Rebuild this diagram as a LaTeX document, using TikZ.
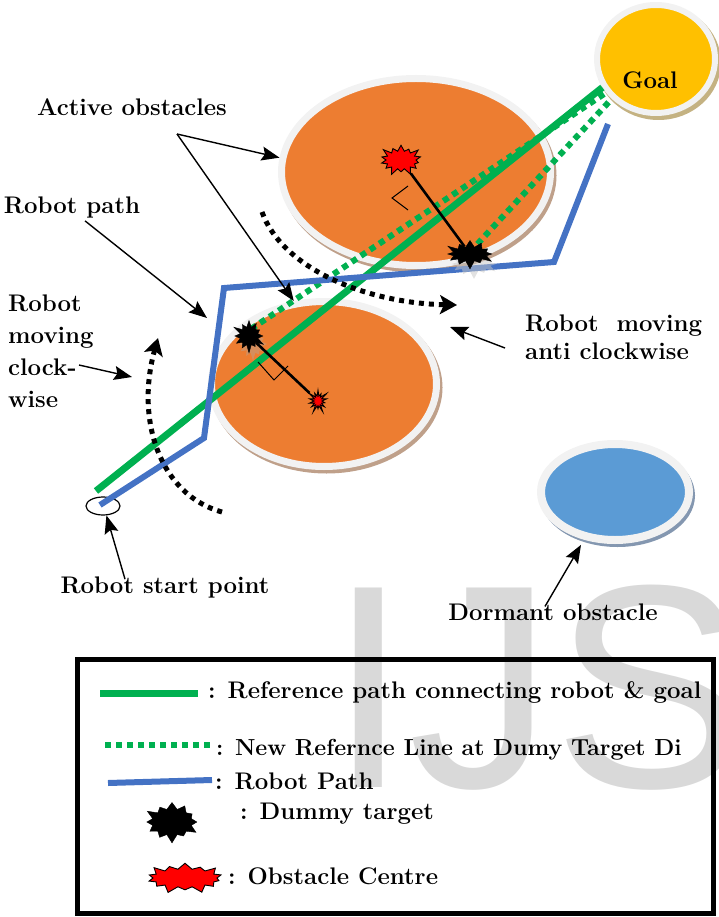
\documentclass[tikz,border=0pt]{standalone}
\usepackage{fontspec}
\usepackage{tikz}
\usetikzlibrary{shapes.geometric,shapes.symbols,arrows.meta,shadows}
\newfontfamily\wmfont{Liberation Sans}
\definecolor{obsorange}{RGB}{237,125,49}
\definecolor{goalyel}{RGB}{255,192,0}
\definecolor{dormblue}{RGB}{91,155,213}
\definecolor{ringgray}{RGB}{242,242,242}
\definecolor{refgreen}{RGB}{0,176,80}
\definecolor{pathblue}{RGB}{68,114,196}
\definecolor{obshade}{RGB}{191,160,138}
\definecolor{goalshade}{RGB}{196,178,130}
\definecolor{dormshade}{RGB}{132,151,176}
\tikzset{
  lbl/.style={font=\fontsize{24}{28}\selectfont\bfseries,inner sep=0pt},
  blob/.style={ellipse,draw=ringgray,line width=7pt,inner sep=0pt},
  blobshade/.style={preaction={draw=#1,fill=#1,line width=7pt,
      transform canvas={xshift=2.5pt,yshift=-3.5pt}}},
  activeobs/.style={blob,fill=obsorange,blobshade=obshade},
  dumtarget/.style={starburst,fill=black,draw=black,starburst points=12,
      starburst point height=9pt,inner sep=0pt,minimum width=32pt,minimum height=28pt},
  obcentre/.style={starburst,fill=red,draw=black,line width=0.9pt,starburst points=14,
      starburst point height=8pt,inner sep=0pt},
  refline/.style={refgreen,line width=7pt},
  refdot/.style={refgreen,line width=6pt,dash pattern=on 6pt off 5pt},
  robpath/.style={pathblue,line width=6pt},
  pointer/.style={-{Stealth[length=18pt,width=14pt,inset=3pt]},line width=1.4pt},
  turn/.style={line width=5pt,dash pattern=on 5pt off 5pt,
      -{Stealth[length=17pt,width=19pt,inset=4pt]}},
}

\begin{document}
\begin{tikzpicture}[x=1pt,y=-1pt]
  \useasboundingbox (0,0) rectangle (718,917);
  \node[anchor=base west,font=\wmfont\fontsize{290}{290}\selectfont,text=black!15,inner sep=0pt]
        (wmark) at (328,787) {IJS};

  \node[activeobs,minimum width=269pt,minimum height=187pt] (obsA) at (416,172) {};
  \node[activeobs,minimum width=225pt,minimum height=165pt] (obsB) at (324,384) {};
  \node[blob,fill=goalyel,blobshade=goalshade,line width=6pt,
        minimum width=118pt,minimum height=108pt] (goal) at (656,59) {};
  \node[lbl] (goallbl) at (650,80) {Goal};
  \node[blob,fill=dormblue,blobshade=dormshade,line width=8pt,
        minimum width=148pt,minimum height=96pt] (dorm) at (615,492) {};
  \node[ellipse,draw,line width=1.2pt,minimum width=34pt,minimum height=18pt,inner sep=0pt]
        (rstart) at (103,506) {};

  \coordinate (p0) at (100,505);
  \coordinate (p1) at (204,438);
  \coordinate (p2) at (224,288);
  \coordinate (p3) at (554,262);
  \coordinate (p4) at (608,124);
  \coordinate (gstart) at (96,491);

  \draw[refline] (gstart) -- (goal.208);
  \draw[refdot] (251,329) -- (goal.214);
  \draw[refdot] (470,252) -- (goal.222);
  \draw[robpath] (p0) -- (p1) -- (p2) -- (p3) -- (p4);

  \draw[turn] (262,212) .. controls (282,268) and (365,303) .. (457,305);
  \draw[turn] (222,512) .. controls (160,495) and (135,420) .. (158,338);

  \node[obcentre,minimum width=46pt,minimum height=34pt] (cenA) at (401,160) {};
  \node[obcentre,minimum width=24pt,minimum height=26pt] (cenB) at (318,401) {};
  \node[dumtarget,minimum width=52pt,minimum height=32pt,
        drop shadow={shadow xshift=4pt,shadow yshift=-10pt,fill=gray!45}] (dumA) at (470,254) {};
  \node[dumtarget,minimum width=36pt,minimum height=36pt,
        drop shadow={shadow xshift=4pt,shadow yshift=-8pt,fill=obshade}] (dumB) at (249,336) {};
  \draw[line width=2.6pt] (cenA) -- (dumA);
  \draw[line width=2.6pt] (cenB) -- (dumB);
  \draw[line width=1pt] (408,186) -- (392,198) -- (408,210);
  \draw[line width=1pt] (258,362) -- (274,380) -- (288,366);

  \node[lbl] (actlbl) at (132,107) {Active obstacles};
  \coordinate (actfork) at (177,134);
  \draw[pointer] (actfork) -- (obsA.174);
  \draw[pointer] (actfork) -- (obsB.110);

  \node[lbl] (pathlbl) at (72,208) {Robot path};
  \coordinate (pathpt) at (207,318);
  \draw[pointer] ([xshift=13pt,yshift=-2pt]pathlbl.south) -- (pathpt);

  \node[lbl,anchor=north west,align=left,font=\fontsize{24}{32}\selectfont\bfseries]
        (cwlbl) at (8,295) {Robot\\moving\\clock-\\wise};
  \coordinate (cwfrom) at (79,365);
  \coordinate (cwto) at (132,377);
  \draw[pointer] (cwfrom) -- (cwto);

  \node[lbl,anchor=north west,align=left,font=\fontsize{24}{28}\selectfont\bfseries]
        (acwlbl) at (525,315) {Robot~~moving\\anti clockwise};
  \coordinate (acwfrom) at (505,348);
  \coordinate (acwto) at (450,327);
  \draw[pointer] (acwfrom) -- (acwto);

  \node[lbl] (startlbl) at (165,587) {Robot start point};
  \draw[pointer] ([xshift=-40pt,yshift=-3pt]startlbl.north) -- (rstart.-70);

  \node[lbl] (dormlbl) at (553,612) {Dormant obstacle};
  \draw[pointer,shorten >=6pt] ([xshift=-8pt,yshift=-3pt]dormlbl.north) -- (dorm.237);

  \draw[line width=5pt] (77,659) rectangle (713,913);
  \node[lbl,anchor=west] (leg1) at (208,692) {: Reference path connecting robot \& goal};
  \node[lbl,anchor=west,font=\fontsize{23.2}{28}\selectfont\bfseries]
        (leg2) at (216,750) {: New Refernce Line at Dumy Target Di};
  \node[lbl,anchor=west] (leg3) at (215,781) {: Robot Path};
  \node[lbl,anchor=west] (leg4) at (240,814) {: Dummy target};
  \node[lbl,anchor=west] (leg5) at (228,876) {: Obstacle Centre};
  \draw[refline] ([xshift=-108pt,yshift=-1pt]leg1.west) -- ([xshift=-10pt,yshift=-1pt]leg1.west);
  \draw[refdot] ([xshift=-111pt,yshift=5pt]leg2.west) -- ([xshift=-4pt,yshift=5pt]leg2.west);
  \draw[robpath] ([xshift=-107pt,yshift=-2pt]leg3.west) -- ([xshift=-3pt,yshift=1pt]leg3.west);
  \node[dumtarget,minimum width=58pt,minimum height=44pt] (legdum) at (172,822) {};
  \node[obcentre,minimum width=80pt,minimum height=34pt] (legcen) at (185,878) {};
\end{tikzpicture}
\end{document}
